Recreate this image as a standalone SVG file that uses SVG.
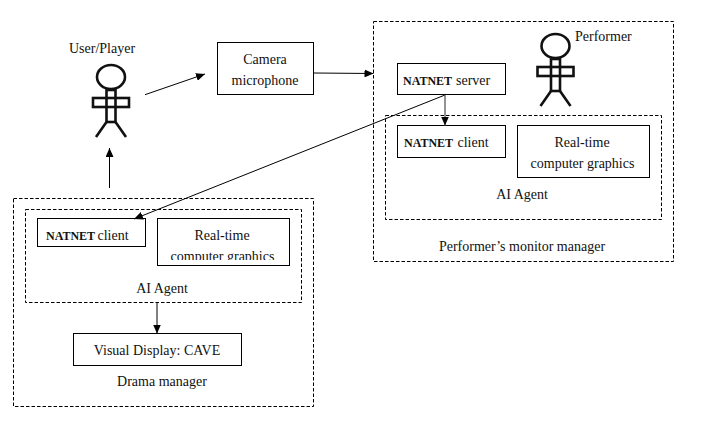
<svg xmlns="http://www.w3.org/2000/svg" width="711" height="440" viewBox="0 0 711 440">
<style>
text{font-family:"Liberation Serif","Times New Roman",serif;font-size:14px;fill:#111}
.m{text-anchor:middle}
.b{font-weight:bold;font-size:12px}
.box{fill:#fff;stroke:#000;stroke-width:1}
.dash{fill:none;stroke:#000;stroke-width:1;stroke-dasharray:3.5 2}
.fig{fill:none;stroke:#111;stroke-width:2.6}
.c{fill:none;stroke:#000;stroke-width:1;marker-end:url(#a)}
</style>
<defs>
<marker id="a" markerUnits="userSpaceOnUse" markerWidth="10" markerHeight="8" refX="9" refY="4" orient="auto"><path d="M0 0L9 4L0 8Z" fill="#000"/></marker>
<clipPath id="clipRT"><rect x="157" y="218" width="133" height="42"/></clipPath>
<g id="person"><ellipse cx="0" cy="0" rx="14" ry="12" class="fig"/><rect x="-4.5" y="13" width="9" height="32" class="fig"/><rect x="-18" y="21" width="36" height="9" class="fig"/><path d="M-4.5 45L-15 60M4.5 45L15 60" class="fig"/></g>
</defs>
<rect width="711" height="440" fill="#fff"/>
<g id="performer-manager"><rect x="373.5" y="21.5" width="300" height="240" class="dash"/><text class="m" x="522" y="251">Performer’s monitor manager</text></g>
<g id="performer-agent"><rect x="385.5" y="115.5" width="276" height="104" class="dash"/><text class="m" x="522" y="199">AI Agent</text></g>
<g id="drama-manager"><rect x="13.5" y="198.5" width="300" height="208" class="dash"/><text class="m" x="162" y="386">Drama manager</text></g>
<g id="drama-agent"><rect x="25.5" y="209.5" width="276" height="93" class="dash"/><text class="m" x="162" y="293">AI Agent</text></g>
<g id="user"><text class="m" x="102" y="53">User/Player</text><use href="#person" x="111" y="77"/></g>
<g id="performer"><text x="575" y="41">Performer</text><use href="#person" x="555.5" y="46"/></g>
<g id="camera"><rect x="217.5" y="42.5" width="96" height="52" class="box"/><text class="m" x="265" y="64">Camera</text><text class="m" x="265" y="85">microphone</text></g>
<g id="natnet-server"><rect x="397.5" y="63.5" width="108" height="31" class="box"/><text x="403" y="85"><tspan class="b">NATNET</tspan><tspan x="456">server</tspan></text></g>
<g id="performer-client"><rect x="397.5" y="125.5" width="108" height="32" class="box"/><text x="404" y="147"><tspan class="b">NATNET</tspan><tspan x="457.5">client</tspan></text></g>
<g id="performer-graphics"><rect x="517.5" y="125.5" width="132" height="52" class="box"/><text class="m" x="582" y="147">Real-time</text><text class="m" x="582.5" y="168">computer graphics</text></g>
<g id="drama-client"><rect x="37.5" y="218.5" width="108" height="28" class="box"/><text x="46" y="240"><tspan class="b">NATNET</tspan><tspan x="97.5">client</tspan></text></g>
<g id="drama-graphics"><rect x="157.5" y="218.5" width="132" height="47" class="box"/><text class="m" x="222" y="240">Real-time</text><text class="m" x="222.5" y="261" clip-path="url(#clipRT)">computer graphics</text></g>
<g id="display"><rect x="73.5" y="333.5" width="168" height="32" class="box"/><text class="m" x="157" y="355">Visual Display: CAVE</text></g>
<g id="connectors">
<path class="c" d="M145 94.7L205 74"/>
<path class="c" d="M314 73L373.5 73.5"/>
<path class="c" d="M445 95L134 219"/>
<path class="c" d="M445 95V125.5" style="stroke:#666;stroke-width:1.4"/>
<path class="c" d="M109.5 188V148"/>
<path class="c" d="M157 302V333.5"/>
</g>
</svg>
